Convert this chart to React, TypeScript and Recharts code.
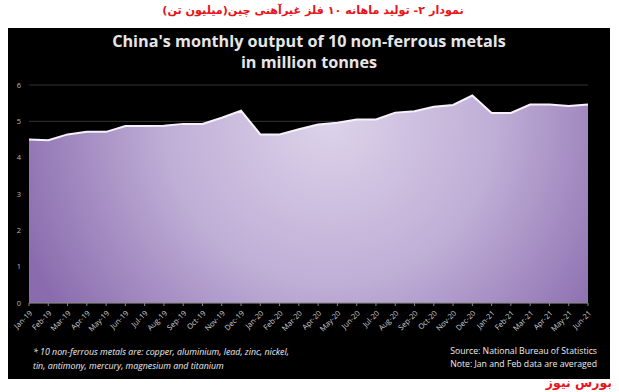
import {
  AreaChart,
  Area,
  XAxis,
  YAxis,
  CartesianGrid,
} from 'recharts';

const months = [
  'Jan-19', 'Feb-19', 'Mar-19', 'Apr-19', 'May-19', 'Jun-19', 'Jul-19', 'Aug-19',
  'Sep-19', 'Oct-19', 'Nov-19', 'Dec-19', 'Jan-20', 'Feb-20', 'Mar-20', 'Apr-20',
  'May-20', 'Jun-20', 'Jul-20', 'Aug-20', 'Sep-20', 'Oct-20', 'Nov-20', 'Dec-20',
  'Jan-21', 'Feb-21', 'Mar-21', 'Apr-21', 'May-21', 'Jun-21',
];

const output = [
  4.5, 4.48, 4.64, 4.71, 4.71, 4.87, 4.87, 4.88, 4.93, 4.93, 5.1, 5.29,
  4.64, 4.64, 4.78, 4.91, 4.96, 5.05, 5.05, 5.24, 5.28, 5.4, 5.45, 5.71,
  5.23, 5.23, 5.46, 5.46, 5.42, 5.46,
];

const yTicks = [0, 1, 2, 3, 4, 5, 6];

const font = '"Open Sans", "Liberation Sans", sans-serif';
const faFont = '"DejaVu Sans", "Noto Sans", sans-serif';

export default function App() {
  const data = months.map((m, i) => ({ month: m, value: output[i] }));

  return (
      <div style={{ position: 'fixed', left: 0, top: 0, width: 619, height: 392, background: '#fff', fontFamily: font, overflow: 'hidden' }}>
        <div
            dir="rtl"
            style={{
              position: 'absolute', left: 0, width: 626, top: 4, textAlign: 'center',
              color: '#e8141c', fontWeight: 700, fontSize: 11.2, fontFamily: faFont,
            }}
        >
          نمودار ۲- تولید ماهانه ۱۰ فلز غیرآهنی چین(میلیون تن)
        </div>
        <div style={{ position: 'absolute', left: 8, top: 28, width: 602, height: 351, background: '#000' }} />
        <div
            style={{
              position: 'absolute', left: 8, width: 602, top: 31, textAlign: 'center',
              color: '#e6e6e6', fontWeight: 700, fontSize: 16.2, lineHeight: '21px',
            }}
        >
          China's monthly output of 10 non-ferrous metals
          <br />
          in million tonnes
        </div>
        <div style={{ position: 'absolute', left: 0, top: 0 }}>
          <AreaChart
              width={619}
              height={392}
              data={data}
              margin={{ top: 85, right: 31, left: 9, bottom: 54 }}
          >
            <defs>
              <radialGradient id="fillGrad" gradientUnits="userSpaceOnUse" cx="330" cy="120" r="330">
                <stop offset="0%" stopColor="#ddd3ea" />
                <stop offset="50%" stopColor="#bfaed6" />
                <stop offset="100%" stopColor="#8a6cae" />
              </radialGradient>
            </defs>
            <CartesianGrid vertical={false} stroke="#333" />
            <XAxis
                dataKey="month"
                interval={0}
                height={35}
                stroke="#888"
                tickSize={3}
                tick={{ fill: '#cfcfcf', fontSize: 7.5, fontFamily: font, angle: -45, textAnchor: 'end', dy: 2 }}
            />
            <YAxis
                domain={[0, 6]}
                ticks={yTicks}
                width={20}
                axisLine={false}
                tickLine={false}
                tick={{ fill: '#bbb', fontSize: 7.5, fontFamily: font }}
            />
            <Area
                type="linear"
                dataKey="value"
                stroke="#f6f1fb"
                strokeWidth={2}
                fill="url(#fillGrad)"
                fillOpacity={1}
                isAnimationActive={false}
            />
          </AreaChart>
        </div>
        <div
            style={{
              position: 'absolute', left: 33, top: 345, color: '#eee', fontStyle: 'italic',
              fontSize: 8.8, lineHeight: '14px',
            }}
        >
          * 10 non-ferrous metals are: copper, aluminium, lead, zinc, nickel,
          <br />
          tin, antimony, mercury, magnesium and titanium
        </div>
        <div
            style={{
              position: 'absolute', right: 22, top: 345, color: '#eee', textAlign: 'right',
              fontSize: 8.7, lineHeight: '13px',
            }}
        >
          Source: National Bureau of Statistics
          <br />
          Note: Jan and Feb data are averaged
        </div>
        <div
            dir="rtl"
            style={{
              position: 'absolute', right: 7, top: 376, color: '#e8141c', fontWeight: 700,
              fontSize: 12.5, lineHeight: '14px', fontFamily: faFont,
            }}
        >
          بورس نیوز
        </div>
      </div>
  );
}
